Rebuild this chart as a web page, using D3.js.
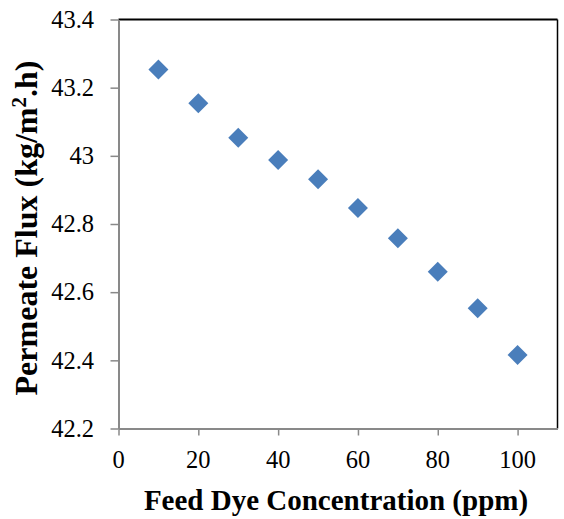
<!DOCTYPE html>
<html>
<head>
<meta charset="utf-8">
<script src="https://cdn.jsdelivr.net/npm/d3@7"></script>
<style>
  body { margin: 0; background: #fff; }
  svg text { font-family: "Liberation Serif", "Times New Roman", serif; }
</style>
</head>
<body>
<div id="chart"></div>
<script>
// Data
var concentration = [10, 20, 30, 40, 50, 60, 70, 80, 90, 100];
var flux = [43.253, 43.154, 43.053, 42.988, 42.931, 42.847, 42.758, 42.660, 42.553, 42.416];
var xTicks = [0, 20, 40, 60, 80, 100];
var yTicks = [42.2, 42.4, 42.6, 42.8, 43, 43.2, 43.4];

var svgWidth = 564;
var svgHeight = 519;

var chartMargin = { top: 19.5, right: 6.5, bottom: 90.5, left: 118.5 };
var chartWidth = svgWidth - chartMargin.left - chartMargin.right;
var chartHeight = svgHeight - chartMargin.top - chartMargin.bottom;

var svg = d3.select("#chart")
    .append("svg")
    .attr("width", svgWidth)
    .attr("height", svgHeight);

var chartGroup = svg.append("g")
    .attr("transform", `translate(${chartMargin.left}, ${chartMargin.top})`);

var xScale = d3.scaleLinear().domain([0, 110]).range([0, chartWidth]);
var yScale = d3.scaleLinear().domain([42.2, 43.4]).range([chartHeight, 0]);

// top and right frame lines
chartGroup.append("line")
    .attr("x1", 0).attr("x2", chartWidth)
    .attr("y1", 0).attr("y2", 0)
    .attr("stroke", "#000").attr("stroke-width", 2);
chartGroup.append("line")
    .attr("x1", chartWidth).attr("x2", chartWidth)
    .attr("y1", 0).attr("y2", chartHeight)
    .attr("stroke", "#000").attr("stroke-width", 1.5);

// axes (lines only, labels drawn below)
var bottomAxis = d3.axisBottom(xScale).tickValues(xTicks).tickSize(7).tickSizeOuter(0).tickFormat("");
var leftAxis = d3.axisLeft(yScale).tickValues(yTicks).tickSize(8).tickSizeOuter(0).tickFormat("");

var xAxis = chartGroup.append("g")
    .attr("transform", `translate(0, ${chartHeight})`)
    .call(bottomAxis);
var yAxis = chartGroup.append("g")
    .call(leftAxis);

[xAxis, yAxis].forEach(function(ax) {
    ax.select(".domain").attr("stroke", "#898989").attr("stroke-width", 2);
    ax.selectAll(".tick line").attr("stroke", "#898989").attr("stroke-width", 1.5);
});

// tick labels
chartGroup.selectAll("text.xlab")
    .data(xTicks)
    .enter()
    .append("text")
    .attr("class", "xlab")
    .attr("x", d => xScale(d))
    .attr("y", chartHeight + 39.5)
    .attr("text-anchor", "middle")
    .style("font-size", "24.5px")
    .text(d => d);

chartGroup.selectAll("text.ylab")
    .data(yTicks)
    .enter()
    .append("text")
    .attr("class", "ylab")
    .attr("x", -24.5)
    .attr("y", d => yScale(d) + 8.3)
    .attr("text-anchor", "end")
    .style("font-size", "24.5px")
    .text(d => d3.format("~g")(d));

// diamonds
chartGroup.selectAll("path.pt")
    .data(concentration)
    .enter()
    .append("path")
    .attr("class", "pt")
    .attr("d", d3.symbol().type(d3.symbolSquare).size(200))
    .attr("transform", (d, i) => `translate(${xScale(d)}, ${yScale(flux[i])}) rotate(45)`)
    .attr("fill", "#4a7ebb");

// axis titles
svg.append("text")
    .attr("x", 336)
    .attr("y", 510)
    .attr("text-anchor", "middle")
    .style("font-size", "29px")
    .style("font-weight", "bold")
    .text("Feed Dye Concentration (ppm)");

var yTitle = svg.append("text")
    .attr("transform", `translate(37, 228) rotate(-90)`)
    .attr("text-anchor", "middle")
    .style("font-size", "32px")
    .style("font-weight", "bold");
yTitle.append("tspan").text("Permeate Flux (kg/m");
yTitle.append("tspan").attr("dy", -11).style("font-size", "21px").text("2");
yTitle.append("tspan").attr("dy", 11).text(".h)");
</script>
</body>
</html>
